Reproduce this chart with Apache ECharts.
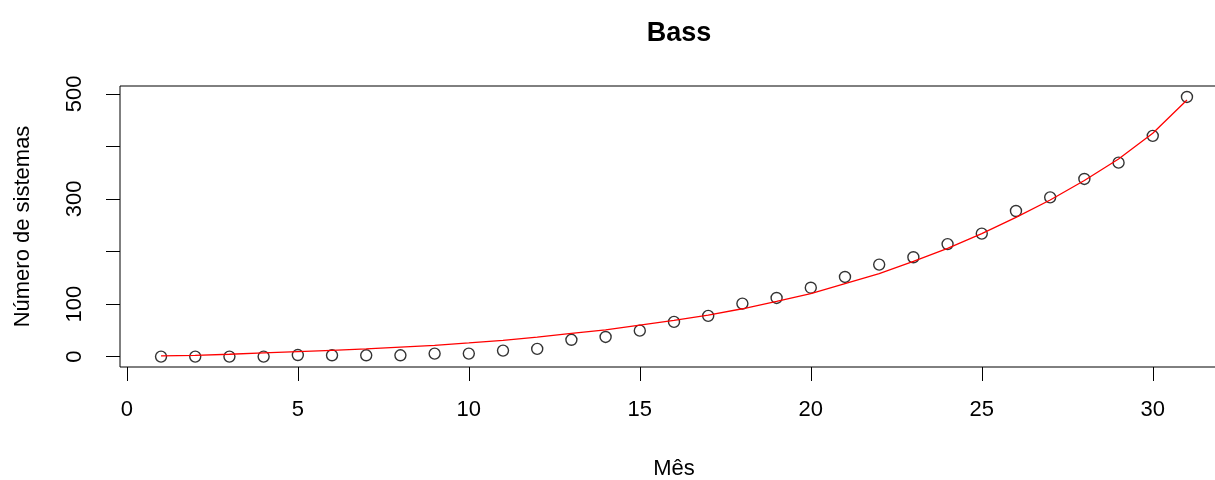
<!DOCTYPE html>
<html>
<head>
<meta charset="utf-8">
<script src="https://cdn.jsdelivr.net/npm/echarts@6/dist/echarts.min.js"></script>
<style>
  html, body { margin: 0; padding: 0; background: #fff; }
  #chart { width: 1215px; height: 480px; }
</style>
</head>
<body>
<div id="chart"></div>
<script>
  // 数据：月份、观测值、Bass 模型拟合值
  var months = [];
  for (var m = 1; m <= 31; m++) months.push(m);
  var observed = [0, 0, 0, 0, 3, 2.5, 2.5, 2.5, 5.7, 5.7, 11.4, 14.6, 32, 37.4, 49.4, 66,
    77.4, 100.8, 111.6, 131, 151.5, 175, 189, 214, 234, 277, 303, 338, 369, 420, 494];
  var fitted = [1.3, 2.5, 4.5, 7, 9.5, 12, 14.5, 18, 21.5, 26, 31, 37, 44, 51, 60, 69,
    79, 91, 105, 120, 139, 158, 181, 206, 234, 265, 298, 335, 376, 425, 488];
  var xTicks = [0, 5, 10, 15, 20, 25, 30];
  var yTicks = [0, 100, 200, 300, 400, 500];
  var yLabels = [0, 100, 300, 500];

  var font = "'Liberation Sans', Arial, sans-serif";
  var myChart = echarts.init(document.getElementById("chart"));
  myChart.setOption({
    animation: false,
    backgroundColor: "#fff",
    title: {
      text: "Bass",
      left: 674,
      textAlign: "center",
      top: 15,
      textStyle: { fontFamily: font, fontSize: 27, fontWeight: "bold", color: "#000" }
    },
    grid: {
      left: 120,
      right: -13,
      top: 86,
      bottom: 113,
      outerBoundsMode: "none",
      containLabel: false,
      show: true,
      borderColor: "#000",
      borderWidth: 1,
      backgroundColor: "transparent"
    },
    xAxis: {
      type: "value",
      min: -0.2,
      max: 32.2,
      name: "Mês",
      nameLocation: "middle",
      nameGap: 102,
      nameTextStyle: { fontFamily: font, fontSize: 22, color: "#000", verticalAlign: "middle" },
      axisLine: { show: false, onZero: false },
      axisTick: { show: true, inside: false, length: 14, lineStyle: { color: "#000" }, customValues: xTicks },
      axisLabel: {
        customValues: xTicks,
        margin: 43,
        verticalAlign: "middle",
        fontFamily: font, fontSize: 22, color: "#000"
      },
      splitLine: { show: false }
    },
    yAxis: {
      type: "value",
      min: -19.8,
      max: 514.8,
      name: "Número de sistemas",
      nameLocation: "middle",
      nameRotate: 90,
      nameGap: 97,
      nameTextStyle: { fontFamily: font, fontSize: 22, color: "#000", verticalAlign: "middle" },
      axisLine: { show: false, onZero: false },
      axisTick: { show: true, inside: false, length: 14, lineStyle: { color: "#000" }, customValues: yTicks },
      axisLabel: {
        customValues: yLabels,
        rotate: 90,
        margin: 45,
        align: "center",
        verticalAlign: "middle",
        fontFamily: font, fontSize: 22, color: "#000"
      },
      splitLine: { show: false }
    },
    series: [
      {
        type: "scatter",
        data: months.map(function (m, i) { return [m, observed[i]]; }),
        symbol: "circle",
        symbolSize: 11,
        itemStyle: { color: "rgba(255,255,255,0)", borderColor: "#000", borderWidth: 1.4 },
        z: 2
      },
      {
        type: "line",
        data: months.map(function (m, i) { return [m, fitted[i]]; }),
        showSymbol: false,
        lineStyle: { color: "#ff0000", width: 1.3 },
        z: 3
      }
    ]
  });
</script>
</body>
</html>
